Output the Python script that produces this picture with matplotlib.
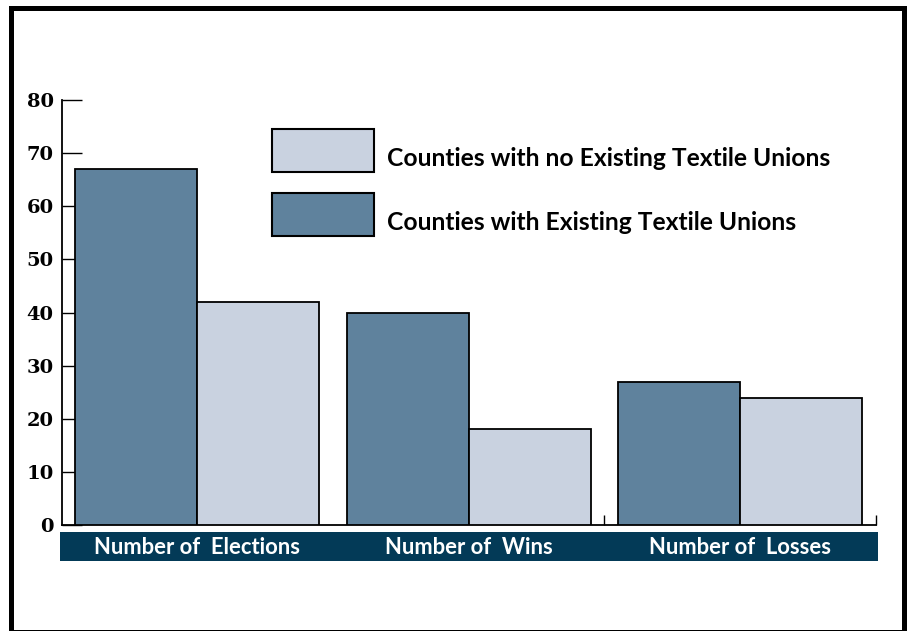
import matplotlib
matplotlib.use("Agg")
import matplotlib.pyplot as plt
from matplotlib.patches import Rectangle
import numpy as np

categories = ["Number of  Elections", "Number of  Wins", "Number of  Losses"]
with_unions = [67, 40, 27]
no_unions = [42, 18, 24]
series_labels = ["Counties with no Existing Textile Unions",
                 "Counties with Existing Textile Unions"]
yticks = [0, 10, 20, 30, 40, 50, 60, 70, 80]

dark = "#5F829D"
light = "#C9D2E0"
navy = "#033A57"

W, H = 909, 631
fig = plt.figure(figsize=(W / 100, H / 100), dpi=100)

def fx(px):
    return px / W

def fy(py):
    return 1 - py / H

# outer frame
fig.add_artist(Rectangle((fx(10.5), fy(632)), fx(904) - fx(10.5), fy(7.5) - fy(632),
                         transform=fig.transFigure, fill=False, lw=3.6, ec="black"))

ax_left, ax_right, ax_top, ax_bot = 62, 876, 100, 525
ax = fig.add_axes([fx(ax_left), fy(ax_bot), fx(ax_right) - fx(ax_left), fy(ax_top) - fy(ax_bot)])
x = np.arange(len(categories))
bw = 0.449
ax.bar(x - bw / 2, with_unions, bw, color=dark, edgecolor="black", lw=1.3, zorder=3)
ax.bar(x + bw / 2, no_unions, bw, color=light, edgecolor="black", lw=1.3, zorder=3)
ax.set_xlim(-0.497, 2.5)
ax.set_ylim(0, 80)
for s in ["top", "right"]:
    ax.spines[s].set_visible(False)
ax.spines["left"].set_linewidth(1.3)
ax.spines["bottom"].set_linewidth(1.3)
ax.set_yticks(yticks)
ax.set_yticklabels([str(v) for v in yticks], fontfamily="DejaVu Serif",
                   fontweight="bold", fontsize=14)
ax.tick_params(axis="y", direction="in", length=14.4, width=1.0, pad=6)
ax.set_xticks([1.5, 2.5])
ax.set_xticklabels([])
ax.tick_params(axis="x", direction="in", length=7, width=1.0)
ax.patch.set_alpha(0)

# category band
band = fig.add_axes([fx(60), fy(561), fx(878) - fx(60), fy(532) - fy(561)])
band.set_xlim(ax.get_xlim()[0] - (2 / 272), ax.get_xlim()[1] + (2 / 272))
band.set_ylim(0, 1)
band.set_facecolor(navy)
for s in band.spines.values():
    s.set_visible(False)
band.set_xticks([])
band.set_yticks([])
for i, c in enumerate(categories):
    band.text(i, 0.45, c, color="white", ha="center", va="center",
              fontfamily="Lato", fontweight="bold", fontsize=15.8)

# legend
patch_colors = [light, dark]
patch_tops = [129, 193]
for col, top, lab in zip(patch_colors, patch_tops, series_labels):
    fig.add_artist(Rectangle((fx(272), fy(top + 43)), fx(374) - fx(272), fy(top) - fy(top + 43),
                             transform=fig.transFigure, fc=col, ec="black", lw=1.5))
    fig.text(fx(387), fy(top + 29), lab, ha="left", va="center",
             fontfamily="Lato", fontweight="bold", fontsize=17.7, color="black")

fig.savefig("out.png", dpi=100)
